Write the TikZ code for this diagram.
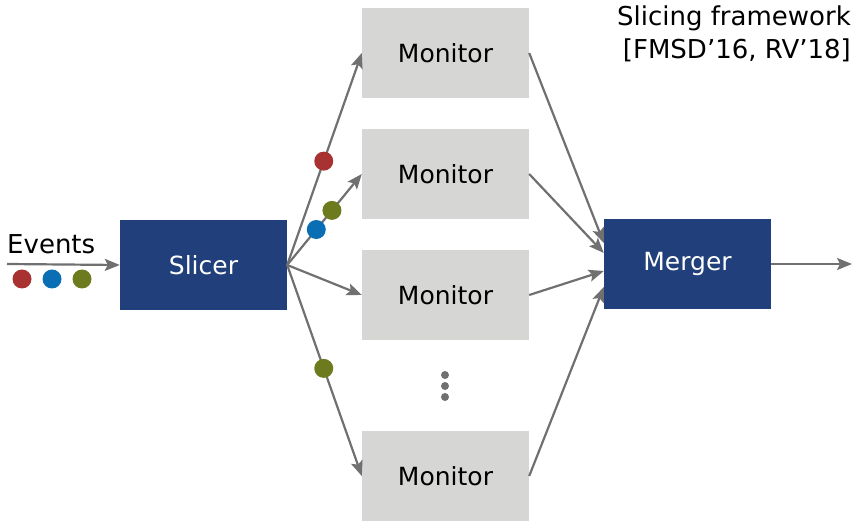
\documentclass[tikz,border=0pt]{standalone}
\usepackage{fontspec}
\setmainfont{DejaVu Sans}
\usetikzlibrary{arrows.meta,calc}
\definecolor{dblue}{HTML}{213F7A}
\definecolor{lgray}{HTML}{D6D6D4}
\definecolor{agray}{HTML}{707070}
\definecolor{evred}{HTML}{A83232}
\definecolor{evblue}{HTML}{0A6EB4}
\definecolor{evolive}{HTML}{6E7A1E}
\tikzset{
  bluebox/.style={fill=dblue,draw=none,minimum width=167pt,minimum height=90pt,inner sep=0pt,text=white,font=\fontsize{25}{30}\selectfont},
  graybox/.style={fill=lgray,draw=none,minimum width=167pt,minimum height=90pt,inner sep=0pt,text=black,font=\fontsize{25}{30}\selectfont},
  conn/.style={draw=agray,line width=2.2pt,-{Stealth[length=15pt,width=12pt,inset=3pt]}},
  evdot/.style={circle,minimum size=19pt,inner sep=0pt,draw=none},
  vdot/.style={circle,fill=agray,minimum size=8pt,inner sep=0pt,draw=none}
}
\begin{document}
\begin{tikzpicture}[x=1pt,y=-1pt]
\useasboundingbox (0,0) rectangle (852,521);
\node[bluebox] (slicer) at (203.5,265) {Slicer};
\node[graybox] (m1) at (445.5,53) {Monitor};
\node[graybox] (m2) at (445.5,174) {Monitor};
\node[graybox] (m3) at (445.5,295) {Monitor};
\node[graybox] (m4) at (445.5,476) {Monitor};
\node[bluebox] (merger) at (687.5,264) {Merger};
\node[font=\fontsize{26}{30}\selectfont,anchor=base west,inner sep=0pt] (ev) at (7,254) {Events};
\coordinate (evstart) at (7,264);
\coordinate (outend) at (852,264);
\node[evdot,fill=evred] (d1) at (22,279) {};
\node[evdot,fill=evblue] (d2) at (52,279) {};
\node[evdot,fill=evolive] (d3) at (82,279) {};
\draw[conn] (evstart) -- (slicer.west);
\draw[conn] (slicer.east) -- (m1.west) node[evdot,fill=evred,pos=0.49] (r1) {};
\draw[conn] (slicer.east) -- (m2.west) node[evdot,fill=evblue,pos=0.39] (b2) {} node[evdot,fill=evolive,pos=0.60] (o2) {};
\draw[conn] (slicer.east) -- (m3.west);
\draw[conn] (slicer.east) -- (m4.west) node[evdot,fill=evolive,pos=0.49] (o4) {};
\coordinate (t1) at ($(merger.west)+(0,-21)$);
\coordinate (t2) at ($(merger.west)+(0,-11)$);
\coordinate (t3) at ($(merger.west)+(0,7)$);
\coordinate (t4) at ($(merger.west)+(0,23)$);
\draw[conn] (m1.east) -- (t1);
\draw[conn] (m2.east) -- (t2);
\draw[conn] (m3.east) -- (t3);
\draw[conn] (m4.east) -- (t4);
\draw[conn] (merger.east) -- (outend);
\node[vdot] (v1) at (445,375) {};
\node[vdot] (v2) at (445,386) {};
\node[vdot] (v3) at (445,397) {};
\node[font=\fontsize{26}{33}\selectfont,align=right,anchor=north east,inner sep=0pt] (title) at (851,6) {Slicing framework\\{}[FMSD’16, RV’18]};
\end{tikzpicture}
\end{document}
